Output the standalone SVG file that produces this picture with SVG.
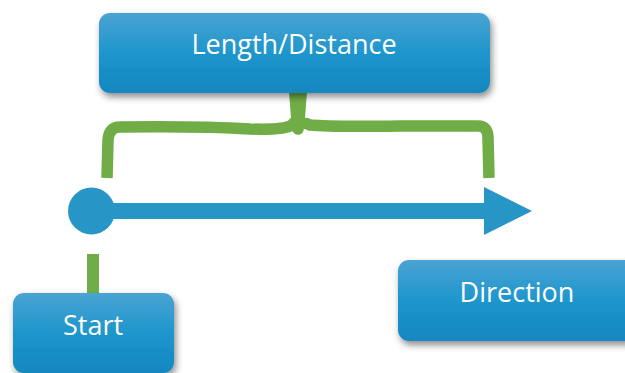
<svg xmlns="http://www.w3.org/2000/svg" width="625" height="373" viewBox="0 0 625 373">
  <defs>
    <linearGradient id="boxFill" x1="0" y1="0" x2="0" y2="1">
      <stop offset="0" stop-color="#4AA3D3"/>
      <stop offset="0.5" stop-color="#1E96CC"/>
      <stop offset="1" stop-color="#1287BF"/>
    </linearGradient>
    <filter id="shadow" x="-10%" y="-20%" width="125%" height="150%">
      <feDropShadow dx="2" dy="4" stdDeviation="3.5" flood-color="#000" flood-opacity="0.45"/>
    </filter>
  </defs>
  <style>
    .box { fill: url(#boxFill); filter: url(#shadow); }
    .label { font-family: "Open Sans", "Liberation Sans", sans-serif; fill: #fff; text-anchor: middle; font-size: 27px; }
    .brace { fill: none; stroke: #70AD47; stroke-width: 11.5; stroke-linejoin: round; }
    .vector { fill: #2796C7; }
  </style>
  <rect width="625" height="373" fill="#fff"/>

  <g id="connectors">
    <!-- curly brace spanning the vector -->
    <path class="brace" d="M107 178 L108 140 Q109 127 120 127 Q200 126 250 129 Q285 130 292 125 Q297 118 298 129 Q300 120 310 125 Q330 127 400 126 L478 126 Q488 126 488 138 L489 178"/>
    <!-- brace stem up to the label box -->
    <path d="M289 92 L307 92 L305 118 L298 132 L291 118 Z" fill="#70AD47"/>
    <!-- tick from the start point down to the Start box -->
    <rect x="87" y="254" width="12" height="40" fill="#70AD47"/>
    <!-- the vector itself -->
    <rect class="vector" x="92" y="203" width="394" height="16"/>
    <polygon class="vector" points="484,187 532,211 484,235"/>
    <circle class="vector" cx="91.5" cy="211" r="23.5"/>
  </g>

  <g id="length-distance">
    <rect class="box" x="99" y="13" width="391" height="80" rx="11"/>
    <text class="label" x="294" y="54">Length/Distance</text>
  </g>

  <g id="start">
    <rect class="box" x="13" y="293" width="161" height="80" rx="11"/>
    <text class="label" x="93" y="335">Start</text>
  </g>

  <g id="direction">
    <rect class="box" x="398" y="260" width="240" height="81" rx="11"/>
    <text class="label" x="517" y="302">Direction</text>
  </g>
</svg>
